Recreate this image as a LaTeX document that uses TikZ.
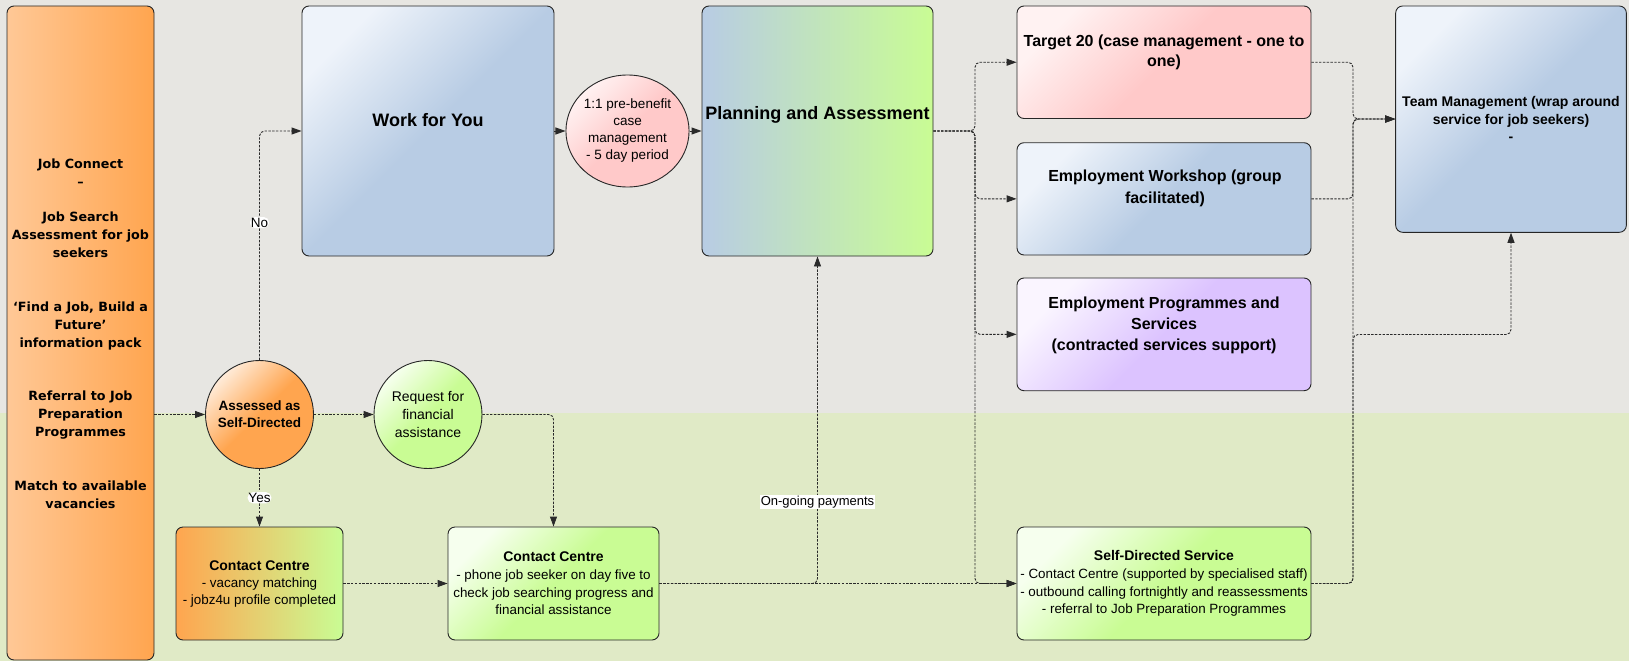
\documentclass[tikz,border=0pt]{standalone}
\usepackage{fontspec}
\setmainfont{Liberation Sans}
\newfontfamily\verd{DejaVu Sans}
\usetikzlibrary{arrows.meta,shapes.geometric}
\definecolor{bggray}{HTML}{E7E6E2}
\definecolor{bggreen}{HTML}{E0EAC6}
\definecolor{blueC}{HTML}{B8CCE4}
\definecolor{blueL}{HTML}{EEF3FA}
\definecolor{pinkC}{HTML}{FFC9C9}
\definecolor{pinkL}{HTML}{FFF2F2}
\definecolor{lavC}{HTML}{DCC3FF}
\definecolor{lavL}{HTML}{FAF5FF}
\definecolor{greenC}{HTML}{C9FC94}
\definecolor{greenL}{HTML}{F6FFEE}
\definecolor{orangeC}{HTML}{FFA54F}
\definecolor{orangeM}{HTML}{FFC896}
\definecolor{orangeL}{HTML}{FFEBD8}
\definecolor{lineC}{HTML}{2A2A2A}
\tikzset{
  box/.style={draw=black!85, line width=0.9pt, rounded corners=7pt, inner sep=0pt, align=center},
  roundshape/.style={draw=black!85, line width=0.9pt, circle, inner sep=0pt, align=center, minimum size=108pt},
  grad/.style 2 args={top color=#1, bottom color=#2, middle color=#2, shading angle=45},
  conn/.style={draw=lineC, line width=0.9pt, dash pattern=on 2.4pt off 1.4pt, rounded corners=5pt,
    -{Triangle[length=10pt,width=7pt]}},
  lbl/.style={fill=white, inner sep=0.8pt, font=\fontsize{13.5}{15}\selectfont},
  txt/.style={align=center, inner sep=0pt},
  bigbold/.style={font=\fontsize{18}{22}\selectfont\bfseries},
}
\begin{document}
\begin{tikzpicture}[x=1pt, y=-1pt]
\useasboundingbox (0,0) rectangle (1629,661);
\fill[bggray] (0,0) rectangle (1629,413);
\fill[bggreen] (0,413) rectangle (1629,661);

% left column
\node[box, minimum width=147pt, minimum height=654pt, left color=orangeM, right color=orangeC] (jc) at (80.5,333) {};
\node[txt, font=\verd\fontsize{12.7}{17.9}\selectfont\bfseries] (jctext) at (80.5,333.6)
  {Job Connect\\–\\[17.9pt]Job Search\\Assessment for job\\seekers\\[35.8pt]‘Find a Job, Build a\\Future’\\information pack\\[35.8pt]Referral to Job\\Preparation\\Programmes\\[35.8pt]Match to available\\vacancies};

% circles
\node[roundshape, grad={orangeL}{orangeC}, font=\fontsize{13.5}{16.7}\selectfont\bfseries] (assess) at (259.5,414.5) {Assessed as\\Self-Directed};
\node[roundshape, grad={greenL}{greenC}, font=\fontsize{14}{18}\selectfont] (request) at (428,414.5) {Request for\\financial\\assistance};
\node[draw=black!85, line width=0.9pt, ellipse, inner sep=0pt, align=center, minimum width=106pt, minimum height=112pt,
  grad={pinkL}{pinkC}, font=\fontsize{13.5}{17}\selectfont] (pre) at (627.5,131) {1:1 pre-benefit\\case\\management\\- 5 day period};

% boxes
\node[box, minimum width=167pt, minimum height=113pt, left color=orangeC, right color=greenC, font=\fontsize{13.4}{17}\selectfont] (cc1) at (259.5,583.5)
  {{\fontsize{14}{17}\selectfont\bfseries Contact Centre}\\- vacancy matching\\- jobz4u profile completed};
\node[box, minimum width=211pt, minimum height=113pt, grad={greenL}{greenC}, font=\fontsize{13.4}{17.7}\selectfont] (cc2) at (553.5,583.5)
  {{\fontsize{14}{17.7}\selectfont\bfseries Contact Centre}\\- phone job seeker on day five to\\check job searching progress and\\financial assistance};
\node[box, minimum width=252pt, minimum height=250pt, grad={blueL}{blueC}] (work) at (428,131) {};
\node[txt, bigbold] (worktext) at (428,120.5) {Work for You};
\node[box, minimum width=231pt, minimum height=250pt, left color=blueC, right color=greenC] (plan) at (817.5,131) {};
\node[txt, bigbold] (plantext) at (817.5,115) {Planning and Assessment};

\node[box, minimum width=294pt, minimum height=112.5pt, grad={pinkL}{pinkC}] (target) at (1164,62.25) {};
\node[txt, font=\fontsize{16}{20}\selectfont\bfseries] (targettext) at (1164,52.7) {Target 20 (case management - one to\\one)};
\node[box, minimum width=294pt, minimum height=112.3pt, grad={blueL}{blueC}] (workshop) at (1164,198.85) {};
\node[txt, font=\fontsize{16}{21.7}\selectfont\bfseries] (workshoptext) at (1165,188.2) {Employment Workshop (group\\facilitated)};
\node[box, minimum width=294pt, minimum height=112.7pt, grad={lavL}{lavC}] (prog) at (1164,334.35) {};
\node[txt, font=\fontsize{16}{21.3}\selectfont\bfseries] (progtext) at (1164,325.2) {Employment Programmes and\\Services\\(contracted services support)};
\node[box, minimum width=294pt, minimum height=113pt, grad={greenL}{greenC}, font=\fontsize{13.4}{17.7}\selectfont] (sds) at (1164,583.5)
  {{\fontsize{14}{17.7}\selectfont\bfseries Self-Directed Service}\\- Contact Centre (supported by specialised staff)\\- outbound calling fortnightly and reassessments\\- referral to Job Preparation Programmes};
\node[box, minimum width=230.7pt, minimum height=226.3pt, grad={blueL}{blueC}, font=\fontsize{14}{17.5}\selectfont\bfseries] (team) at (1511,119.15)
  {Team Management (wrap around\\service for job seekers)\\-};

% junction points
\coordinate (lj) at (975,131);
\coordinate (rj) at (1353,119);
\coordinate (pj) at (1353,334.5);

% connectors
\draw[conn] (jc.east |- assess.west) -- (assess.west);
\draw[conn] (assess) -- (request);
\draw[conn] (assess) -- node[lbl] (yes) {Yes} (cc1);
\draw[conn] (assess) |- node[lbl, pos=0.3] (no) {No} (work);
\draw[conn] (work) -- (pre);
\draw[conn] (pre) -- (plan);
\draw[conn] (request) -| (cc2);
\draw[conn] (cc1) -- (cc2);
\draw[conn] (cc2) -- (sds);
\draw[conn] (cc2) -| (plan);
\draw[conn] (plan) -- (lj) |- (target);
\draw[conn] (plan) -- (lj) |- (workshop);
\draw[conn] (plan) -- (lj) |- (prog);
\draw[conn] (plan) -- (lj) |- (sds);
\draw[conn] (target) -| (rj) -- (team);
\draw[conn] (workshop) -| (rj) -- (team);
\draw[conn] (sds) -| (rj) -- (team);
\draw[conn] (sds) -| (pj) -| (team);
\node[lbl, font=\fontsize{13}{15}\selectfont] (ongoing) at (817.5,502) {On-going payments};
\end{tikzpicture}
\end{document}
